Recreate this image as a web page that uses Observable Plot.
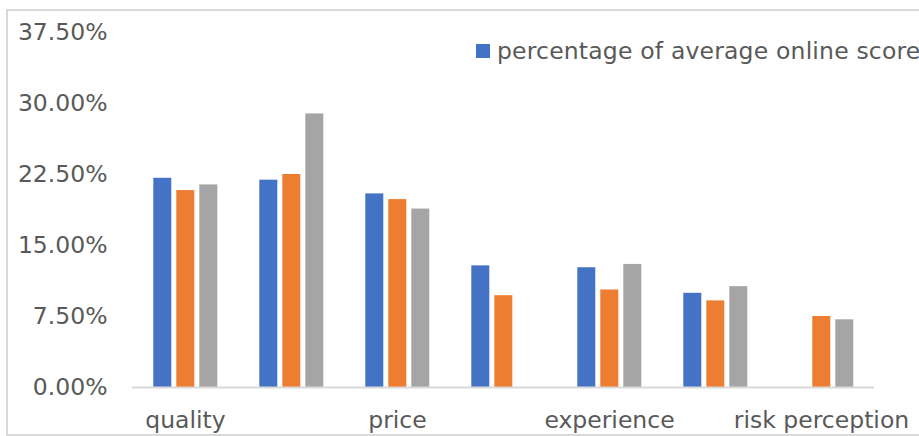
<!DOCTYPE html>
<html>
<head>
<meta charset="utf-8">
<script src="https://cdn.jsdelivr.net/npm/d3@7"></script>
<script src="https://cdn.jsdelivr.net/npm/@observablehq/plot@0.6"></script>
<style>
  html, body { margin: 0; padding: 0; background: #fff; overflow: hidden; }
  #wrap { position: relative; width: 919px; height: 436px; overflow: hidden; font-family: "DejaVu Sans", Verdana, sans-serif; }
  #frame { position: absolute; left: 6px; top: 9px; width: 940px; height: 427px; box-sizing: border-box; border: 2px solid #d9d9d9; }
  #chart { position: absolute; left: 0; top: 0; }
  #legend { position: absolute; left: 476px; top: 37px; height: 28px; display: flex; align-items: center; white-space: nowrap; font-size: 23.5px; letter-spacing: 0.18px; color: #595959; }
  #legend .sw { width: 14px; height: 14px; margin-right: 7px; flex: none; }
</style>
</head>
<body>
<div id="wrap">
  <div id="frame"></div>
  <div id="chart"></div>
  <div id="legend"></div>
</div>
<script>
const categories = ["quality", "category 2", "price", "category 4", "experience", "category 6", "risk perception"];
const tickLabels = ["quality", "", "price", "", "experience", "", "risk perception"];
const series = ["percentage of average online score", "series 2", "series 3"];
const colors = ["#4472C4", "#ED7D31", "#A5A5A5"];
const blueValues = [22.1, 21.9, 20.45, 12.85, 12.65, 9.95, null];
const orangeValues = [20.8, 22.5, 19.85, 9.7, 10.3, 9.15, 7.5];
const grayValues = [21.4, 28.9, 18.85, null, 13.0, 10.65, 7.15];
const yTicks = [0, 7.5, 15, 22.5, 30, 37.5];
const legendShown = ["percentage of average online score"];

const valuesBySeries = [blueValues, orangeValues, grayValues];
const data = [];
categories.forEach((c, i) => {
  series.forEach((s, j) => {
    const v = valuesBySeries[j][i];
    if (v != null) data.push({category: c, series: s, value: v});
  });
});

const chart = Plot.plot({
  width: 919,
  height: 436,
  marginLeft: 130.7,
  marginRight: 43,
  marginTop: 32,
  marginBottom: 49,
  style: {fontFamily: "DejaVu Sans", fontSize: "23.5px", color: "#595959", background: "transparent", overflow: "visible"},
  fx: {
    domain: categories,
    padding: 0,
    label: null,
    tickSize: 0,
    tickPadding: 24,
    tickFormat: d => tickLabels[categories.indexOf(d)]
  },
  x: {domain: series, paddingInner: 0.22, paddingOuter: 0.8475, axis: null},
  y: {
    domain: [0, 37.5],
    ticks: yTicks,
    tickFormat: d => d.toFixed(2) + "%",
    tickSize: 0,
    tickPadding: 25,
    label: null
  },
  color: {domain: series, range: colors},
  marks: [
    Plot.barY(data, {fx: "category", x: "series", y: "value", fill: "series"}),
    Plot.ruleY(categories, {fx: d => d, y: () => 0, stroke: "#d9d9d9", strokeWidth: 2})
  ]
});
document.getElementById("chart").appendChild(chart);

const legend = document.getElementById("legend");
legendShown.forEach(name => {
  const i = series.indexOf(name);
  const sw = document.createElement("span");
  sw.className = "sw";
  sw.style.background = colors[i];
  const tx = document.createElement("span");
  tx.textContent = name;
  legend.appendChild(sw);
  legend.appendChild(tx);
});
</script>
</body>
</html>
